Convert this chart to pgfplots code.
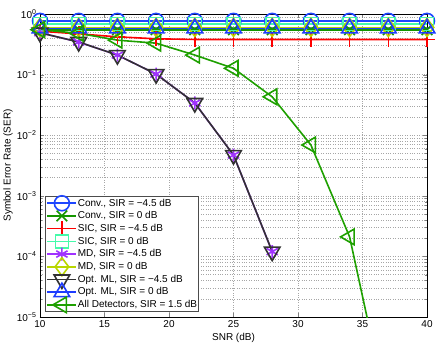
\documentclass[border=0pt]{standalone}
\usepackage{fontspec}
\setmainfont{Liberation Sans}
\usepackage{pgfplots}
\pgfplotsset{compat=1.18}
\usetikzlibrary{calc}
\definecolor{cblue}{RGB}{30,70,255}
\definecolor{cgreen}{RGB}{20,150,0}
\definecolor{cred}{RGB}{255,0,0}
\definecolor{cmint}{RGB}{70,250,170}
\definecolor{cpurple}{RGB}{160,50,255}
\definecolor{cyellow}{RGB}{185,215,0}
\definecolor{cdark}{RGB}{50,50,50}
\definecolor{cblue2}{RGB}{30,60,255}
\definecolor{cgreen2}{RGB}{30,160,0}
\begin{document}
\begin{tikzpicture}
\begin{axis}[
  scale only axis, width=387pt, height=303pt,
  xmin=10, xmax=40, ymin=1e-5, ymax=1, ymode=log,
  xtick={10,15,20,25,30,35,40},
  ytick={1e-5,1e-4,1e-3,1e-2,1e-1,1},
  yticklabels={10\textsuperscript{−5},10\textsuperscript{−4},10\textsuperscript{−3},10\textsuperscript{−2},10\textsuperscript{−1},10\textsuperscript{0}},
  /pgf/number format/assume math mode=true,
  tick label style={font=\fontsize{10}{12}\selectfont},
  label style={font=\fontsize{10}{12}\selectfont},
  xlabel={SNR (dB)}, ylabel={Symbol Error Rate (SER)},
  xlabel style={at={(axis description cs:0.5,-0.069)}, anchor=center},
  ylabel style={at={(axis description cs:-0.0827,0.5)}, anchor=center},
  tick align=inside,
  major tick length=4pt, minor tick length=2pt,
  grid=both,
  major grid style={dotted, gray!70},
  minor grid style={dotted, gray!70},
  axis line style={black, line width=0.6pt},
  legend cell align=left,
  legend image code/.code={\path[draw=none,fill=none] (-1pt,-3pt) rectangle (30pt,3pt);
    \draw[overlay,mark repeat=2,mark phase=2,#1] plot coordinates {(0pt,0pt) (14.5pt,0pt) (29pt,0pt)};},
  legend style={at={(axis description cs:0,0)}, anchor=south west, xshift=5pt, yshift=5pt,
    font=\fontsize{10}{12}\selectfont, draw=black!70, line width=0.8pt,
    inner xsep=1pt, inner ysep=1.5pt, row sep=2.2pt,
    nodes={inner sep=0.5pt, text height=7.5pt, text depth=2pt}},
]
\addplot[color=cblue, line width=1.6pt, mark=o, mark size=7.5pt] coordinates {
(10,0.77) (13,0.77) (16,0.77) (19,0.77) (22,0.77) (25,0.77) (28,0.77) (31,0.77) (34,0.77) (37,0.77) (40,0.77)};
\addlegendentry{Conv., SIR = −4.5 dB}
\addplot[color=cgreen, line width=1.6pt, mark=x, mark size=7.5pt] coordinates {
(10,0.55) (13,0.55) (16,0.55) (19,0.55) (22,0.55) (25,0.55) (28,0.55) (31,0.55) (34,0.55) (37,0.55) (40,0.55)};
\addlegendentry{Conv., SIR = 0 dB}
\addplot[color=red, line width=1.6pt, mark=+, mark size=7.5pt] coordinates {
(10,0.52) (13,0.47) (16,0.42) (19,0.39) (22,0.38) (25,0.38) (28,0.38) (31,0.38) (34,0.38) (37,0.38) (40,0.38)};
\addlegendentry{SIC, SIR = −4.5 dB}
\addplot[color=cmint, line width=1.6pt, mark=square, mark size=6.5pt] coordinates {
(10,0.68) (13,0.68) (16,0.68) (19,0.68) (22,0.68) (25,0.68) (28,0.68) (31,0.68) (34,0.68) (37,0.68) (40,0.68)};
\addlegendentry{SIC, SIR = 0 dB}
\addplot[color=cpurple, line width=1.6pt, mark=asterisk, mark size=6.5pt] coordinates {
(10,0.49) (13,0.345) (16,0.21) (19,0.102) (22,0.034) (25,0.0047) (28,0.00012)};
\addlegendentry{MD, SIR = −4.5 dB}
\addplot[color=cyellow, line width=1.6pt, mark=diamond, mark size=9pt] coordinates {
(10,0.6) (13,0.6) (16,0.6) (19,0.6) (22,0.6) (25,0.6) (28,0.6) (31,0.6) (34,0.6) (37,0.6) (40,0.6)};
\addlegendentry{MD, SIR = 0 dB}
\addplot[color=cdark, line width=1.6pt, mark=triangle, mark size=9pt, mark options={rotate=180}] coordinates {
(10,0.49) (13,0.345) (16,0.21) (19,0.102) (22,0.034) (25,0.0047) (28,0.00012)};
\addlegendentry{Opt. ML, SIR = −4.5 dB}
\addplot[color=cblue2, line width=1.6pt, mark=triangle, mark size=9pt] coordinates {
(10,0.58) (13,0.58) (16,0.58) (19,0.58) (22,0.58) (25,0.58) (28,0.58) (31,0.58) (34,0.58) (37,0.58) (40,0.58)};
\addlegendentry{Opt. ML, SIR = 0 dB}
\addplot[color=cgreen2, line width=1.6pt, forget plot] coordinates {
(34,0.00021) (37,2.4e-7)};
\addplot[color=cgreen2, line width=1.6pt, mark=triangle, mark size=9pt, mark options={rotate=90}] coordinates {
(10,0.55) (13,0.48) (16,0.37) (19,0.33) (22,0.21) (25,0.127) (28,0.043) (31,0.0069) (34,0.00021)};
\addlegendentry{All Detectors, SIR = 1.5 dB}
\end{axis}
\pgfresetboundingbox
\path ($(current axis.south west)+(-40pt,-29pt)$) rectangle ($(current axis.north east)+(16pt,14pt)$);
\end{tikzpicture}
\end{document}
